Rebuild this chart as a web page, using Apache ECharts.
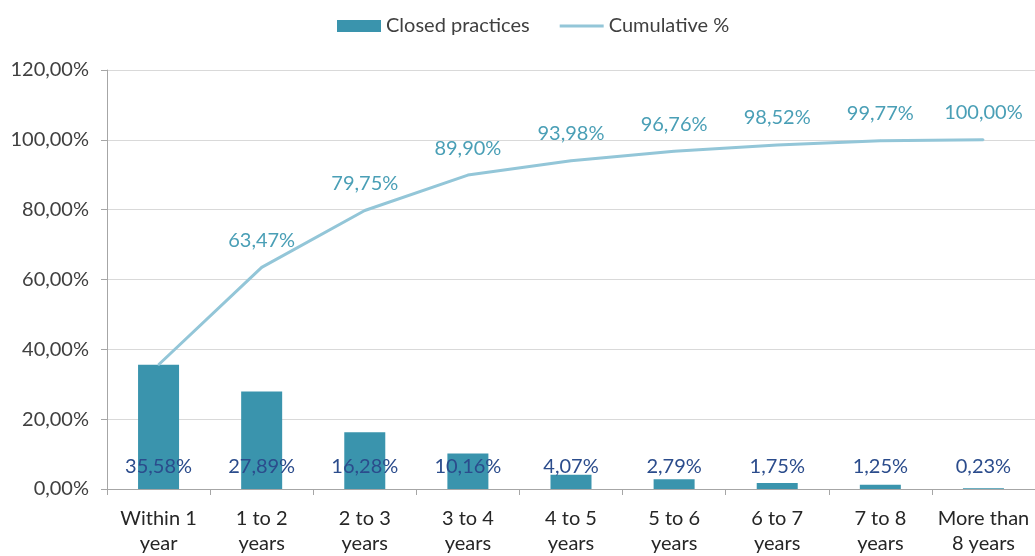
<!DOCTYPE html>
<html lang="en">
<head>
    <meta charset="UTF-8"/>
    <title>closed practices</title>
    <script src="https://cdn.jsdelivr.net/npm/echarts@6/dist/echarts.min.js"></script>
</head>
<body style="margin:0">
<div id="main" style="width: 1035px;height:556px;"></div>

<script type="text/javascript">
    var categories = ['Within 1\nyear', '1 to 2\nyears', '2 to 3\nyears', '3 to 4\nyears', '4 to 5\nyears',
        '5 to 6\nyears', '6 to 7\nyears', '7 to 8\nyears', 'More than\n8 years'];
    var closedPractices = [0.3558, 0.2789, 0.1628, 0.1016, 0.0407, 0.0279, 0.0175, 0.0125, 0.0023];
    var cumulative = [0.3558, 0.6347, 0.7975, 0.8990, 0.9398, 0.9676, 0.9852, 0.9977, 1.0000];
    var yTicks = [0, 0.2, 0.4, 0.6, 0.8, 1.0, 1.2];

    // 0,3558 -> "35,58%"
    function pct(v) {
        return (v * 100).toFixed(2).replace('.', ',') + '%';
    }

    var font = 'Lato, "Open Sans", sans-serif';
    var myChart = echarts.init(document.getElementById('main'));

    var option = {
        animation: false,
        textStyle: {fontFamily: font},
        legend: {
            top: 11,
            left: 332,
            itemGap: 30,
            itemWidth: 44,
            itemHeight: 12,
            textStyle: {fontSize: 20, color: '#404040', fontFamily: font},
            data: [
                {name: 'Closed practices', icon: 'rect'},
                {name: 'Cumulative %', icon: 'path://M0,5 L44,5 L44,8 L0,8 Z'}
            ]
        },
        grid: {left: 107, top: 70, width: 933, bottom: 67, containLabel: false},
        xAxis: {
            type: 'category',
            data: categories,
            axisLine: {lineStyle: {color: '#a6a6a6'}},
            axisTick: {show: true, alignWithLabel: false, length: 6, lineStyle: {color: '#a6a6a6'}},
            axisLabel: {fontSize: 20, color: '#262626', lineHeight: 25, margin: 17, interval: 0}
        },
        yAxis: {
            type: 'value',
            min: yTicks[0],
            max: yTicks[yTicks.length - 1],
            interval: 0.2,
            axisLine: {show: true, lineStyle: {color: '#a6a6a6'}},
            axisTick: {show: true, length: 6, lineStyle: {color: '#a6a6a6'}},
            splitLine: {lineStyle: {color: '#d9d9d9'}},
            axisLabel: {fontSize: 20, color: '#404040', margin: 18, formatter: pct}
        },
        series: [
            {
                name: 'Closed practices',
                type: 'bar',
                data: closedPractices,
                barWidth: 41,
                itemStyle: {color: '#3a94ad'},
                label: {
                    show: true,
                    position: 'insideBottom',
                    distance: 12,
                    fontSize: 20,
                    color: '#2b4c8c',
                    formatter: function (p) { return pct(p.value); }
                },
                z: 2
            },
            {
                name: 'Cumulative %',
                type: 'line',
                data: cumulative.map(function (v, i) {
                    return i === 0 ? {value: v, label: {show: false}} : v;
                }),
                symbol: 'circle',
                symbolSize: 2,
                showSymbol: true,
                lineStyle: {color: '#93c6d8', width: 3},
                itemStyle: {color: '#93c6d8'},
                label: {
                    show: true,
                    position: 'top',
                    distance: 16,
                    fontSize: 20,
                    color: '#4a9fb6',
                    formatter: function (p) { return pct(p.value); }
                },
                labelLayout: {hideOverlap: false},
                z: 3
            }
        ]
    };
    myChart.setOption(option);
</script>
</body>
</html>
